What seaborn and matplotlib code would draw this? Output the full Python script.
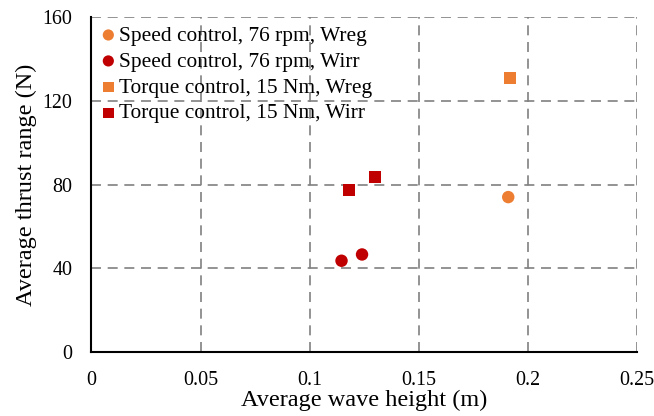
import matplotlib
matplotlib.use("Agg")
import matplotlib.pyplot as plt
import seaborn as sns
import pandas as pd

sns.set_theme(style="white")
plt.rcParams['font.family'] = ['Liberation Serif', 'DejaVu Serif']
plt.rcParams['text.color'] = 'black'
plt.rcParams['axes.labelcolor'] = 'black'

# datos
series = ["Speed control, 76 rpm, Wreg", "Speed control, 76 rpm, Wirr",
          "Torque control, 15 Nm, Wreg", "Torque control, 15 Nm, Wirr"]
altura_ola = [[0.191], [0.1146, 0.124], [0.1917], [0.118, 0.130]]
rango_empuje = [[74.0], [43.6, 46.6], [131.0], [77.3, 83.5]]
colores = ["#ED7D31", "#C00000", "#ED7D31", "#C00000"]
marcadores = ["o", "o", "s", "s"]

filas = []
for nombre, xs, ys in zip(series, altura_ola, rango_empuje):
    for x, y in zip(xs, ys):
        filas.append({"serie": nombre, "x": x, "y": y})
df = pd.DataFrame(filas)

fig = plt.figure(figsize=(6.54, 4.16), dpi=100)
ax = fig.add_axes([0.1398, 0.1538, 0.974 - 0.1398, 0.959 - 0.1538])

for nombre, color, m in zip(series, colores, marcadores):
    sub = df[df["serie"] == nombre]
    sns.scatterplot(data=sub, x="x", y="y", ax=ax, color=color, marker=m,
                    s=80 if m == "o" else 72, edgecolor="none", label=nombre, zorder=3)

ax.set_xlim(0, 0.25)
ax.set_ylim(0, 160)
ax.set_xticks([0, 0.05, 0.1, 0.15, 0.2, 0.25])
ax.set_xticklabels(["0", "0.05", "0.1", "0.15", "0.2", "0.25"])
ax.set_yticks([0, 40, 80, 120, 160])
ax.grid(True, color="#808080", linestyle=(0, (6, 4)), linewidth=1.2)
ax.set_axisbelow(True)
for lado in ["top", "right"]:
    ax.spines[lado].set_visible(False)
for lado in ["left", "bottom"]:
    ax.spines[lado].set_color("black")
    ax.spines[lado].set_linewidth(1.5)
ax.tick_params(length=0, labelsize=14.4, colors="black", pad=13.8)
ax.set_xlabel("Average wave height (m)", fontsize=17.5, labelpad=0)
ax.set_ylabel("Average thrust range (N)", fontsize=17.5, labelpad=4)

leg = ax.legend(loc="upper left", frameon=False, fontsize=15.4, handletextpad=0.12,
                labelspacing=0.28, borderaxespad=0.0, handlelength=0.78,
                markerscale=0.9, bbox_to_anchor=(0.0, 1.0))

plt.savefig("out.png", dpi=100)
